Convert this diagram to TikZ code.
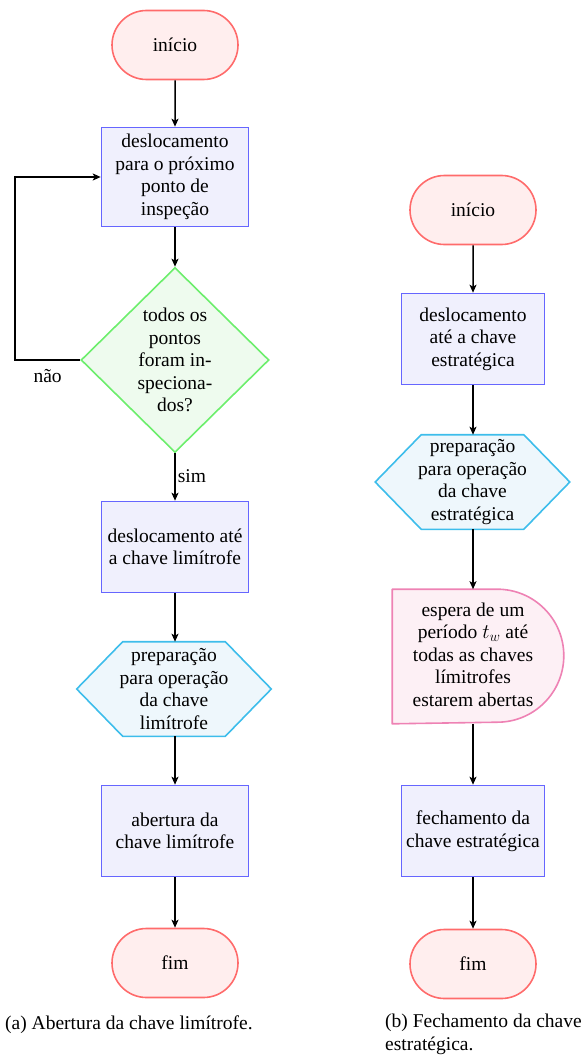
\documentclass[tikz,border=0pt]{standalone}
\usepackage{fontspec}
\setmainfont{Liberation Serif}
\usetikzlibrary{shapes.geometric,shapes.misc,arrows.meta}
\pgfdeclarelayer{bg}\pgfsetlayers{bg,main}
\definecolor{termD}{HTML}{FF6B6B}\definecolor{termF}{HTML}{FFEEEE}
\definecolor{boxD}{HTML}{6666FF}\definecolor{boxF}{HTML}{F0F0FD}
\definecolor{decD}{HTML}{6CEE6C}\definecolor{decF}{HTML}{EEFBEE}
\definecolor{hexD}{HTML}{3DBDEB}\definecolor{hexF}{HTML}{EEF7FC}
\definecolor{delD}{HTML}{EE82B4}\definecolor{delF}{HTML}{FDF0F5}
\tikzset{
  base/.style={line width=1.6pt, align=center, inner sep=0pt, font=\fontsize{19.5}{22.5}\selectfont},
  term/.style={base, rounded rectangle, draw=termD, fill=termF, minimum width=126pt, minimum height=69pt},
  proc/.style={base, rectangle, draw=boxD, fill=boxF, minimum width=147pt, minimum height=91pt},
  dec/.style={base, diamond, aspect=1, draw=decD, fill=decF, minimum width=188pt, minimum height=185pt},
  hextext/.style={base, rectangle, minimum width=193pt, minimum height=93pt},
  hexshape/.style={line width=1.6pt, draw=hexD, fill=hexF, line join=miter},
  waittext/.style={base, rectangle, minimum width=170pt, minimum height=133pt},
  waitshape/.style={line width=1.6pt, draw=delD, fill=delF, line join=round},
  conn/.style={line width=1.5pt, -{Stealth[length=8pt,width=7pt,inset=2pt]}},
  lbl/.style={font=\fontsize{19.5}{22.5}\selectfont, inner sep=2pt},
}
\newcommand{\hexoutline}[1]{%
  \begin{pgfonlayer}{bg}
  \draw[hexshape] (#1.west) -- ([xshift=46pt]#1.north west) -- ([xshift=-46pt]#1.north east) -- (#1.east) -- ([xshift=-46pt]#1.south east) -- ([xshift=46pt]#1.south west) -- cycle;
  \end{pgfonlayer}}
\begin{document}
\begin{tikzpicture}[x=1pt,y=1pt]
\useasboundingbox (0,0) rectangle (581,-1062);
% (a)
\node[term] (iniA) at (175,-45) {início};
\node[proc, minimum height=99pt] (a1) at (175,-177) {deslocamento\\para o próximo\\ponto de\\inspeção};
\node[dec] (decA) at (175,-360) {todos os\\pontos\\foram in-\\speciona-\\dos?};
\node[proc] (a2) at (175,-547) {deslocamento até\\a chave limítrofe};
\node[hextext] (hexA) at (174,-689) {preparação\\para operação\\da chave\\limítrofe};
\hexoutline{hexA}
\node[proc] (a3) at (175,-831) {abertura da\\chave limítrofe};
\node[term] (fimA) at (175,-963) {fim};
\coordinate (loopc) at (15,-360);
\draw[conn] (iniA) -- (a1);
\draw[conn] (a1) -- (decA);
\draw[conn] (decA.west) -- node[lbl, below, yshift=-7pt] {não} (loopc) |- (a1.west);
\draw[conn] (decA) -- node[lbl, right, yshift=1pt] {sim} (a2);
\draw[conn] (a2) -- (a2 |- hexA.north);
\draw[conn] (a2 |- hexA.south) -- (a3);
\draw[conn] (a3) -- (fimA);
\node[lbl, anchor=west, inner sep=0pt] (capA) at (5,-1025) {(a) Abertura da chave limítrofe.};
% (b)
\node[term] (iniB) at (473,-210) {início};
\node[proc, minimum width=143pt] (b1) at (473,-339) {deslocamento\\até a chave\\estratégica};
\node[hextext] (hexB) at (472.5,-482) {preparação\\para operação\\da chave\\estratégica};
\hexoutline{hexB}
\node[waittext] (waitB) at (478,-656.5) {\hspace*{-10pt}\begin{tabular}{@{}c@{}}espera de um\\período $t_w$ até\\todas as chaves\\límitrofes\\estarem abertas\end{tabular}};
\begin{pgfonlayer}{bg}
\draw[waitshape] (waitB.north west) -- ([xshift=-66.5pt]waitB.north east) arc[start angle=90, end angle=-90, radius=66.5pt] -- (waitB.south west) -- cycle;
\end{pgfonlayer}
\node[proc, minimum width=143pt] (b2) at (473,-831) {fechamento da\\chave estratégica};
\node[term] (fimB) at (473,-964) {fim};
\draw[conn] (iniB) -- (b1);
\draw[conn] (b1) -- (b1 |- hexB.north);
\draw[conn] (b1 |- hexB.south) -- (b1 |- waitB.north);
\draw[conn] (waitB.south -| b2) -- (b2);
\draw[conn] (b2) -- (fimB);
\node[lbl, anchor=north west, align=left, inner sep=0pt] (capB) at (385,-1014) {(b) Fechamento da chave\\estratégica.};
\end{tikzpicture}
\end{document}
